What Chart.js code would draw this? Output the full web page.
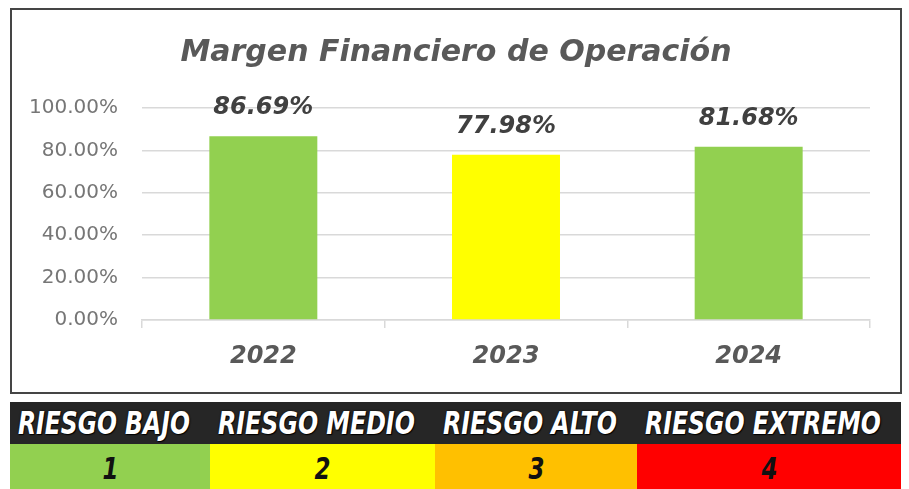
<!DOCTYPE html>
<html>
<head>
<meta charset="utf-8">
<script src="https://cdn.jsdelivr.net/npm/chart.js@4.4.1/dist/chart.umd.min.js"></script>
<style>
  body { margin: 0; background: #fff; width: 909px; height: 489px; overflow: hidden; position: relative; }
  #caja { position: absolute; left: 10px; top: 8px; width: 888px; height: 382px; border: 2px solid #454545; background: #fff; }
  #caja canvas { display: block; }
  #tabla { position: absolute; left: 10px; top: 402px; width: 891px; }
  .fila { display: flex; }
  .enc { height: 42px; background: #262626; }
  .enc div { padding-left: 8px; box-sizing: border-box; overflow: visible; white-space: nowrap; }
  .enc span { display: inline-block; transform-origin: 0 50%; color: #fff;
              font: italic bold 32px "Liberation Sans Narrow", "DejaVu Sans Condensed", sans-serif;
              line-height: 43px; text-shadow: 0 0 2px #000, 1px 1px 1px #000; }
  .val { height: 45px; }
  .val div { text-align: center; }
  .val span { display: inline-block; transform: scaleX(0.85); color: #111;
              font: italic bold 30px "Liberation Sans Narrow", "DejaVu Sans Condensed", sans-serif; line-height: 50px; }
</style>
</head>
<body>
<div id="caja"><canvas id="margenChart" width="888" height="382"></canvas></div>
<div id="tabla">
  <div class="fila enc" id="encabezado"></div>
  <div class="fila val" id="niveles"></div>
</div>
<script>
// datos del grafico
const anios = ['2022', '2023', '2024'];
const margen = [86.69, 77.98, 81.68];
const coloresBarra = ['#92d050', '#ffff00', '#92d050'];
const ticksY = [0, 20, 40, 60, 80, 100];

// tabla de riesgo
const nivelesRiesgo = ['RIESGO BAJO', 'RIESGO MEDIO', 'RIESGO ALTO', 'RIESGO EXTREMO'];
const numerosRiesgo = ['1', '2', '3', '4'];
const coloresRiesgo = ['#92d050', '#ffff00', '#ffc000', '#ff0000'];
const anchosRiesgo = [200, 225, 202, 264];

const enc = document.getElementById('encabezado');
const niv = document.getElementById('niveles');
nivelesRiesgo.forEach((n, i) => {
    const d = document.createElement('div');
    d.style.width = anchosRiesgo[i] + 'px';
    const s = document.createElement('span');
    s.textContent = n;
    d.appendChild(s);
    enc.appendChild(d);
    // texto angosto, como en la tabla original
    const objetivo = anchosRiesgo[i] - 28;
    s.style.transform = 'scaleX(' + (objetivo / s.offsetWidth) + ')';

    const v = document.createElement('div');
    v.style.width = anchosRiesgo[i] + 'px';
    v.style.background = coloresRiesgo[i];
    const t = document.createElement('span');
    t.textContent = numerosRiesgo[i];
    v.appendChild(t);
    niv.appendChild(v);
});

// etiquetas encima de las barras
const etiquetasBarras = {
    id: 'etiquetasBarras',
    afterDatasetsDraw(chart) {
        const ctx = chart.ctx;
        const meta = chart.getDatasetMeta(0);
        ctx.save();
        ctx.font = 'italic bold 24px "DejaVu Sans"';
        ctx.fillStyle = '#404040';
        ctx.textAlign = 'center';
        ctx.textBaseline = 'middle';
        meta.data.forEach((bar, i) => {
            ctx.fillText(margen[i].toFixed(2) + '%', bar.x, bar.y - 28);
        });
        ctx.restore();
    }
};

new Chart(document.getElementById('margenChart'), {
    type: 'bar',
    data: {
        labels: anios,
        datasets: [{
            data: margen,
            backgroundColor: coloresBarra,
            barPercentage: 0.445,
            categoryPercentage: 1
        }]
    },
    options: {
        responsive: false,
        animation: false,
        layout: { padding: 0 },
        plugins: {
            legend: { display: false },
            tooltip: { enabled: false },
            title: {
                display: true,
                text: 'Margen Financiero de Operación',
                color: '#595959',
                font: { family: 'DejaVu Sans', size: 30, weight: 'bold', style: 'italic', lineHeight: 1.2 },
                padding: { top: 25, bottom: 37 }
            }
        },
        scales: {
            x: {
                afterFit: s => { s.height = 72; },
                grid: { drawOnChartArea: false, drawTicks: true, tickLength: 8, color: '#d9d9d9', lineWidth: 1.5 },
                border: { display: true, color: '#d9d9d9', width: 1.5 },
                ticks: {
                    color: '#595959',
                    padding: 14,
                    font: { family: 'DejaVu Sans', size: 24, weight: 'bold', style: 'italic' }
                }
            },
            y: {
                min: 0,
                max: 100,
                afterFit: s => { s.width = 130; },
                afterBuildTicks: s => { s.ticks = ticksY.map(v => ({ value: v })); },
                grid: { drawTicks: false, color: '#d9d9d9', lineWidth: 1.5 },
                border: { display: false },
                ticks: {
                    color: '#767676',
                    padding: 24,
                    font: { family: 'DejaVu Sans', size: 20 },
                    callback: v => v.toFixed(2) + '%'
                }
            },
            // margen derecho vacio para que el titulo quede centrado en el recuadro
            derecha: {
                position: 'right',
                afterFit: s => { s.width = 30; },
                grid: { display: false },
                border: { display: false },
                ticks: { display: false }
            }
        }
    },
    plugins: [etiquetasBarras]
});
</script>
</body>
</html>
